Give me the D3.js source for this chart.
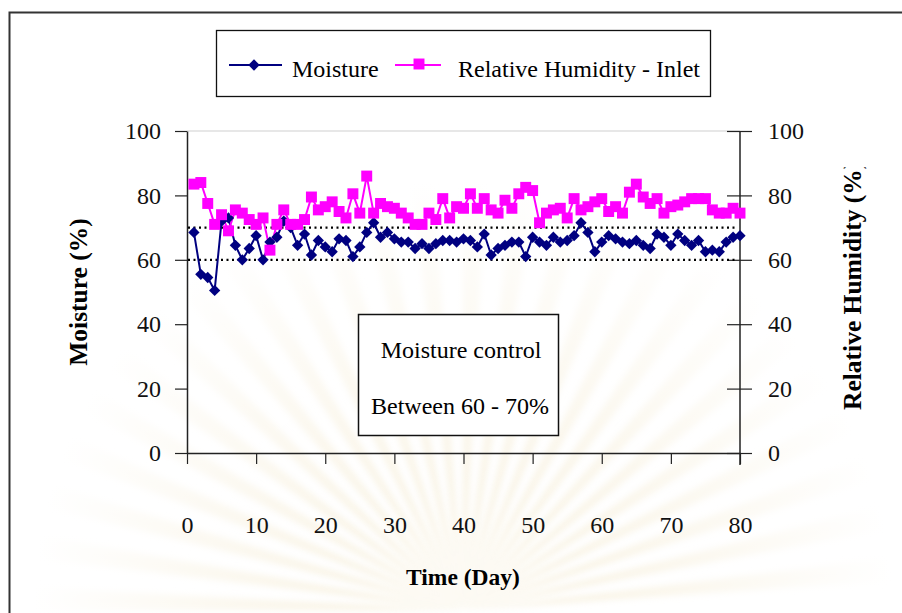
<!DOCTYPE html>
<html>
<head>
<meta charset="utf-8">
<script src="https://cdn.jsdelivr.net/npm/d3@7"></script>
<style>
  html, body { margin: 0; padding: 0; background: #fff; }
  svg { display: block; font-family: "Liberation Serif", "Times New Roman", serif; }
</style>
</head>
<body>
<svg id="chart" width="902" height="613"></svg>
<script>
// Sampling days
const days = [1,2,3,4,5,6,7,8,9,10,11,12,13,14,15,16,17,18,19,20,
  21,22,23,24,25,26,27,28,29,30,31,32,33,34,35,36,37,38,39,40,
  41,42,43,44,45,46,47,48,49,50,51,52,53,54,55,56,57,58,59,60,
  61,62,63,64,65,66,67,68,69,70,71,72,73,74,75,76,77,78,79,80];

// Moisture content (%)
const moisture = [68.5,55.5,54.5,50.5,72,73,64.5,60,63.5,67.5,60,65.5,67,72,70,64.5,68,61.5,66,64,
  62.5,66.5,66,61,64,68.5,71.5,67,68.5,66.5,65.5,65.5,63.5,65,63.5,65,66,66,65.5,66.5,
  66,64,68,61.5,63.5,64.5,65.5,65.5,61,67,65.5,64.5,67,65.5,66,67.5,71.5,68.5,62.5,65.5,
  67.5,66.5,65.5,65,66,64.5,63.5,68,67,64.5,68,66,64.5,66,62.5,63,62.5,65.5,67,67.5];

// Relative humidity at the inlet (%)
const humidity = [83.5,84,77.5,71,74,69,75.5,74.5,72.5,71,73,63,71,75.5,71,71,72.5,79.5,75.5,76.5,
  78,75,73,80.5,74.5,86,74.5,77.5,76.5,76,74.5,73,71,71,74.5,72.5,79,73,76.5,76,
  80.5,76,79,75.5,74.5,78.5,76,80.5,82.5,81.5,71.5,74.5,75.5,76,73,79,75.5,76.5,78,79,
  75,76.5,74.5,81,83.5,79.5,77.5,79,74.5,76.5,77,78,79,79,79,75.5,74.5,74.5,76,74.5];

// Control band limits and tick labels
const bandLimits = [60, 70];
const valueTicks = [0, 20, 40, 60, 80, 100];
const dayTicks = [0, 10, 20, 30, 40, 50, 60, 70, 80];
const seriesNames = ["Moisture", "Relative Humidity - Inlet"];

const NAVY = "#000080", MAGENTA = "#ff00ff";

const svg = d3.select("#chart");
const defs = svg.append("defs");

// faint background rays behind the plot
defs.append("filter").attr("id", "soft").append("feGaussianBlur").attr("stdDeviation", 3);
const rays = svg.append("g").attr("opacity", 0.5).attr("filter", "url(#soft)");
const cx = 463, cy = 610, R = 560;
for (let i = 0; i < 26; i++) {
  const a0 = Math.PI + i * Math.PI / 26, a1 = a0 + Math.PI / 60;
  rays.append("path")
    .attr("d", `M${cx},${cy}L${cx + R * Math.cos(a0)},${cy + R * Math.sin(a0)}L${cx + R * Math.cos(a1)},${cy + R * Math.sin(a1)}Z`)
    .attr("fill", "#f3e7c8");
}
const fadeGrad = defs.append("radialGradient").attr("id", "fade")
  .attr("cx", cx).attr("cy", cy).attr("r", 430).attr("gradientUnits", "userSpaceOnUse");
fadeGrad.append("stop").attr("offset", "0.2").attr("stop-color", "#fff").attr("stop-opacity", 0);
fadeGrad.append("stop").attr("offset", "1").attr("stop-color", "#fff").attr("stop-opacity", 1);
svg.append("rect").attr("x", 0).attr("y", 0).attr("width", 902).attr("height", 613).attr("fill", "url(#fade)");

// outer frame
svg.append("rect").attr("x", 9.5).attr("y", 12.5).attr("width", 1000).attr("height", 1000)
  .attr("fill", "none").attr("stroke", "#333").attr("stroke-width", 2);

const x = d3.scaleLinear().domain([0, 80]).range([187, 740]);
const yL = d3.scaleLinear().domain([0, 100]).range([453, 131]);
const yR = d3.scaleLinear().domain([0, 100]).range([453, 131]);

// top border of plot area
svg.append("line").attr("x1", 187).attr("x2", 740).attr("y1", 131).attr("y2", 131)
  .attr("stroke", "#cfcfcf").attr("stroke-width", 1);

// left axis
const gL = svg.append("g").attr("transform", "translate(187,0)")
  .call(d3.axisLeft(yL).tickValues(valueTicks).tickSize(12).tickPadding(14).tickSizeOuter(0));
// right axis (ticks cross the line)
const gR = svg.append("g").attr("transform", "translate(740,0)")
  .call(d3.axisRight(yR).tickValues(valueTicks).tickSize(12).tickPadding(16).tickSizeOuter(0));
gR.selectAll(".tick line").attr("x1", -13);
// bottom axis
const gB = svg.append("g").attr("transform", "translate(0,453)")
  .call(d3.axisBottom(x).tickValues(dayTicks).tickSize(11).tickPadding(52).tickSizeOuter(0));

[gL, gR, gB].forEach(g => {
  g.select(".domain").attr("stroke", "#222").attr("stroke-width", 1.5);
  g.selectAll(".tick line").attr("stroke", "#222").attr("stroke-width", 1.2);
  g.selectAll(".tick text").attr("font-size", 24).attr("fill", "#111")
    .attr("font-family", "Liberation Serif, serif");
});
gR.select(".domain").attr("d", "M0,131V465");

// control band (dotted lines)
svg.append("g").selectAll("line").data(bandLimits).join("line")
  .attr("x1", 188).attr("x2", 738)
  .attr("y1", d => yL(d)).attr("y2", d => yL(d))
  .attr("stroke", "#000").attr("stroke-width", 2.2)
  .attr("stroke-dasharray", "2 3.5");

// axis titles
svg.append("text").attr("transform", "translate(87,292) rotate(-90)")
  .attr("text-anchor", "middle").attr("font-weight", "bold").attr("font-size", 25.5)
  .text("Moisture (%)");

// right title: the closing parenthesis runs past the clip edge
const rClipRect = defs.append("clipPath").attr("id", "rclip")
  .append("rect").attr("x", 820).attr("width", 80);
const rTitle = svg.append("g").attr("clip-path", "url(#rclip)")
  .append("text")
  .attr("transform", "translate(861,410) rotate(-90)")
  .attr("text-anchor", "start").attr("font-weight", "bold").attr("font-size", 25.5)
  .text("Relative Humidity (%)");
const upToPct = rTitle.node().getSubStringLength(0, 20);
const clipTop = 410 - upToPct - 2;
rClipRect.attr("y", clipTop).attr("height", 410 - clipTop + 20);

svg.append("text").attr("x", 463).attr("y", 585).attr("text-anchor", "middle")
  .attr("font-weight", "bold").attr("font-size", 23.5).text("Time (Day)");

// annotation box
svg.append("rect").attr("x", 358.5).attr("y", 314.5).attr("width", 200).attr("height", 121)
  .attr("fill", "#fff").attr("stroke", "#111").attr("stroke-width", 1.5);
svg.append("text").attr("x", 461).attr("y", 358).attr("text-anchor", "middle")
  .attr("font-size", 24).text("Moisture control");
svg.append("text").attr("x", 460).attr("y", 414).attr("text-anchor", "middle")
  .attr("font-size", 24).text("Between 60 - 70%");

// series
const mData = days.map((d, i) => [d, moisture[i]]);
const hData = days.map((d, i) => [d, humidity[i]]);

const line = yScale => d3.line().x(d => x(d[0])).y(d => yScale(d[1]));

svg.append("path").datum(mData).attr("d", line(yL))
  .attr("fill", "none").attr("stroke", NAVY).attr("stroke-width", 2);
svg.append("path").datum(hData).attr("d", line(yR))
  .attr("fill", "none").attr("stroke", MAGENTA).attr("stroke-width", 2);

const diamondPath = d3.symbol().type(d3.symbolSquare).size(64)();
const squarePath = d3.symbol().type(d3.symbolSquare).size(120)();

svg.append("g").selectAll("path").data(mData).join("path")
  .attr("transform", d => `translate(${x(d[0])},${yL(d[1])}) rotate(45)`)
  .attr("d", diamondPath)
  .attr("fill", NAVY);
svg.append("g").selectAll("path").data(hData).join("path")
  .attr("transform", d => `translate(${x(d[0])},${yR(d[1])})`)
  .attr("d", squarePath)
  .attr("fill", MAGENTA);

// legend
const lg = svg.append("g");
lg.append("rect").attr("x", 216.5).attr("y", 30.5).attr("width", 494).attr("height", 66)
  .attr("fill", "#fff").attr("stroke", "#111").attr("stroke-width", 1.3);
lg.append("line").attr("x1", 229).attr("x2", 282).attr("y1", 65).attr("y2", 65)
  .attr("stroke", NAVY).attr("stroke-width", 2);
lg.append("path").attr("transform", "translate(254,65) rotate(45)")
  .attr("d", diamondPath).attr("fill", NAVY);
lg.append("text").attr("x", 292).attr("y", 77).attr("font-size", 24).text(seriesNames[0]);
lg.append("line").attr("x1", 395).attr("x2", 441).attr("y1", 65).attr("y2", 65)
  .attr("stroke", MAGENTA).attr("stroke-width", 2);
lg.append("path").attr("transform", "translate(419,64)")
  .attr("d", squarePath).attr("fill", MAGENTA);
lg.append("text").attr("x", 458).attr("y", 77).attr("font-size", 24).text(seriesNames[1]);
</script>
</body>
</html>
